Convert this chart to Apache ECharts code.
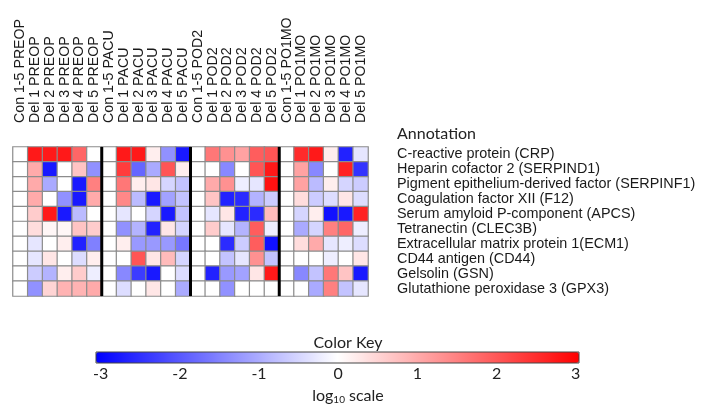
<!DOCTYPE html>
<html>
<head>
<meta charset="utf-8">
<script src="https://cdn.jsdelivr.net/npm/echarts@6/dist/echarts.min.js"></script>
<style>html,body{margin:0;padding:0;background:#fff;}#c{width:704px;height:413px;}</style>
</head>
<body>
<div id="c"></div>
<script>
var columns = ["Con 1-5 PREOP","Del 1 PREOP","Del 2 PREOP","Del 3 PREOP","Del 4 PREOP","Del 5 PREOP",
  "Con 1-5 PACU","Del 1 PACU","Del 2 PACU","Del 3 PACU","Del 4 PACU","Del 5 PACU",
  "Con 1-5 POD2","Del 1 POD2","Del 2 POD2","Del 3 POD2","Del 4 POD2","Del 5 POD2",
  "Con 1-5 PO1MO","Del 1 PO1MO","Del 2 PO1MO","Del 3 PO1MO","Del 4 PO1MO","Del 5 PO1MO"];
var proteins = ["C-reactive protein (CRP)","Heparin cofactor 2 (SERPIND1)","Pigment epithelium-derived factor (SERPINF1)",
  "Coagulation factor XII (F12)","Serum amyloid P-component (APCS)","Tetranectin (CLEC3B)",
  "Extracellular matrix protein 1(ECM1)","CD44 antigen (CD44)","Gelsolin (GSN)","Glutathione peroxidase 3 (GPX3)"];
var groupBoundaries = [6, 12, 18];
var keyTicks = [-3, 3];

// rows = proteins, columns = Con, Del1..Del5
var preop = [
  [0, 2.7, 2.7, 2.7, 1.8, 0],
  [0, 1.0, -2.7, 0, 0.7, -1.3],
  [0, 1.0, -1.0, 0, -2.7, 1.5],
  [0, 1.0, 0, -1.3, -2.7, 1.0],
  [0, 0.6, 2.7, -2.7, -0.8, 0],
  [0, 0.4, 0.1, 0.1, 0.7, 0.6],
  [0, -0.3, 0, 0.2, -2.6, -1.5],
  [0, -0.3, 0.3, 0, -0.4, 0.2],
  [0, -0.6, -0.9, 0.2, 0.6, -0.2],
  [0, -1.3, 0.5, 0.9, 0.9, 1.0]
];
var pacu = [
  [0, 2.7, 2.7, 0.2, -1.3, -2.7],
  [0, 2.3, -1.8, -1.0, 2.0, 0.2],
  [0, 1.6, 0.2, 0.3, -0.5, -0.7],
  [0, 1.4, -0.8, -2.7, -1.1, -0.7],
  [0, -0.3, 0, -0.5, -2.7, -0.7],
  [0, -1.3, -0.9, -2.6, 0.3, -0.5],
  [0, 0.2, -1.2, -1.2, -1.2, -1.6],
  [0, 0, 2.0, 0.3, 0.8, -0.5],
  [0, -1.4, -2.3, -2.7, 0, -0.4],
  [0, -0.4, 0, 0.3, 0, -1.0]
];
var pod2 = [
  [0, 1.6, 1.3, 1.1, 1.9, 2.0],
  [0, 0, -1.4, 0, 2.0, 2.7],
  [0, 1.0, 1.3, -0.2, -0.3, 2.8],
  [0, 0.7, -2.6, -2.5, -0.9, -0.6],
  [0, -0.3, 0.3, -2.6, -2.5, 0.8],
  [0, 0.6, -0.3, -0.9, 1.9, -0.2],
  [0, 0, -2.5, -0.6, 1.9, -2.8],
  [0, 0, -0.7, -0.3, 1.3, -0.7],
  [0, -2.6, -1.2, -1.1, 0.3, 2.7],
  [0, 0, -1.3, 0, 0, 0]
];
var po1mo = [
  [0, 2.5, 2.7, 0.2, -2.6, -0.3],
  [0, 1.1, -1.4, 0, 2.6, -2.4],
  [0, 1.1, -0.8, 0.2, -0.5, -0.6],
  [0, 0.4, -0.6, -0.4, 0.3, -0.4],
  [0, -0.5, 0.2, -2.8, -2.7, 2.6],
  [0, -1.0, -0.5, 1.5, 1.8, -0.2],
  [0, 0.4, 1.0, -0.3, -0.2, -0.4],
  [0, 0, 0, -0.2, 0, 0.3],
  [0, -1.4, -0.7, 1.6, 0.7, -2.7],
  [0, 0, -1.0, 1.5, -0.7, -0.3]
];

var groups = [preop, pacu, pod2, po1mo];
var heatData = [];
groups.forEach(function (g, gi) {
  g.forEach(function (row, r) {
    row.forEach(function (v, c) {
      heatData.push([gi * 6 + c, r, v]);
    });
  });
});

var sepSeries = groupBoundaries.map(function (b) {
  return {
    type: 'line', xAxisIndex: 1, yAxisIndex: 1, symbol: 'none', silent: true,
    data: [[b, 0], [b, proteins.length]],
    lineStyle: { color: '#000', width: 3 }, z: 10
  };
});

var chart = echarts.init(document.getElementById('c'));
chart.setOption({
  animation: false,
  backgroundColor: '#fff',
  title: [
    { text: 'Annotation', left: 392, top: 121, textStyle: { fontFamily: 'Lato', fontSize: 16, fontWeight: 'normal', color: '#222' } },
    { text: 'Color Key', left: 343, textAlign: 'center', top: 330, textStyle: { fontFamily: 'Lato', fontSize: 16, fontWeight: 'normal', color: '#222' } },
    { text: 'log{s|10} scale', left: 343, textAlign: 'center', top: 382,
      textStyle: { fontFamily: 'Lato', fontSize: 16, fontWeight: 'normal', color: '#222',
        rich: { s: { fontFamily: 'Lato', fontSize: 10, color: '#222', verticalAlign: 'bottom', padding: [8, 0, 0, 0] } } } }
  ],
  grid: [
    { left: 13, top: 147, width: 355, height: 149 },
    { left: 13, top: 147, width: 355, height: 149 },
    { left: 100.7, top: 352, width: 475, height: 11 }
  ],
  xAxis: [
    { type: 'category', gridIndex: 0, position: 'top', data: columns,
      axisLine: { show: false }, axisTick: { show: false }, splitLine: { show: false },
      axisLabel: { rotate: -90, margin: 24, fontFamily: 'Liberation Sans', fontSize: 14.2, color: '#1a1a1a', interval: 0 } },
    { type: 'value', gridIndex: 1, min: 0, max: columns.length, show: false },
    { type: 'value', gridIndex: 2, min: keyTicks[0], max: keyTicks[1], interval: 1,
      axisLine: { show: false }, axisTick: { show: false }, splitLine: { show: false },
      axisLabel: { margin: 3, fontFamily: 'Lato', fontSize: 16, color: '#222' } }
  ],
  yAxis: [
    { type: 'category', gridIndex: 0, position: 'right', inverse: true, data: proteins,
      axisLine: { show: false }, axisTick: { show: false }, splitLine: { show: false },
      axisLabel: { margin: 29, fontFamily: 'Liberation Sans', fontSize: 14.4, color: '#1a1a1a', interval: 0 } },
    { type: 'value', gridIndex: 1, min: 0, max: proteins.length, show: false },
    { type: 'value', gridIndex: 2, show: false, min: 0, max: 1 }
  ],
  visualMap: {
    type: 'continuous', min: -3, max: 3, seriesIndex: 0, orient: 'horizontal',
    left: 96, top: 352, itemWidth: 11, itemHeight: 483, padding: 0,
    calculable: false, text: null, showLabel: false,
    inRange: { color: ['#0000ff', '#ffffff', '#ff0000'] }
  },
  graphic: [
    { type: 'rect', shape: { x: 96, y: 352, width: 483, height: 11 }, style: { fill: 'none', stroke: '#444', lineWidth: 1 }, z: 100 }
  ],
  series: [
    { type: 'heatmap', xAxisIndex: 0, yAxisIndex: 0, data: heatData,
      itemStyle: { borderColor: '#8c8c8c', borderWidth: 1.2 },
      emphasis: { disabled: true } }
  ].concat(sepSeries)
});
</script>
</body>
</html>
